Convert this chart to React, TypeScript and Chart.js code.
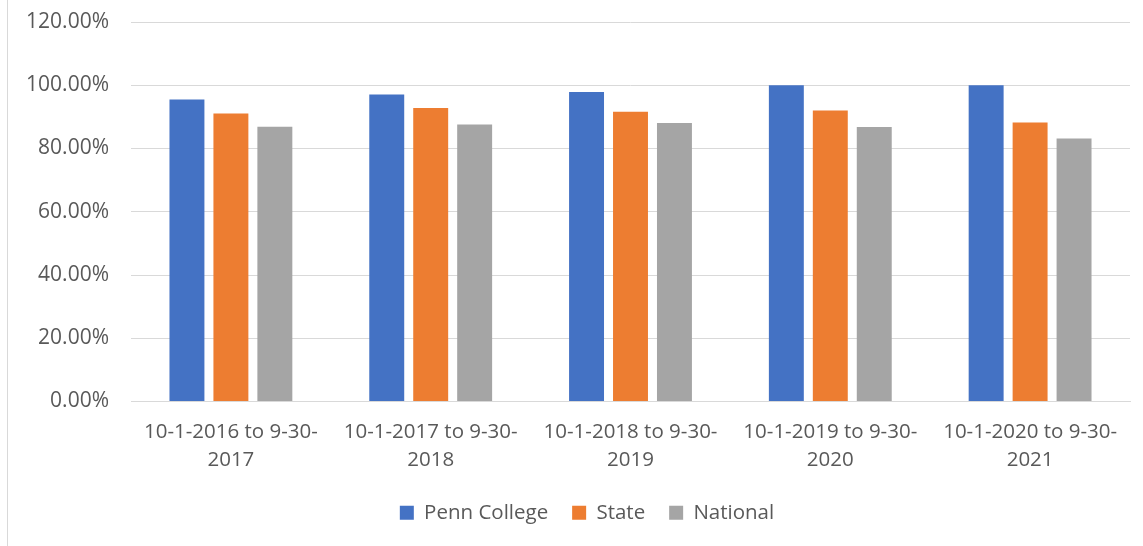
import React, { useEffect, useRef } from "react";
import { Chart, registerables } from "chart.js";

Chart.register(...registerables);

const categories: string[][] = [
  ["10-1-2016 to 9-30-", "2017"],
  ["10-1-2017 to 9-30-", "2018"],
  ["10-1-2018 to 9-30-", "2019"],
  ["10-1-2019 to 9-30-", "2020"],
  ["10-1-2020 to 9-30-", "2021"],
];
const pennCollege = [95.5, 97.1, 97.9, 100, 100];
const stateValues = [91.1, 92.8, 91.6, 92.0, 88.2];
const nationalValues = [86.9, 87.6, 88.1, 86.8, 83.2];

const FONT = "'Open Sans', sans-serif";
const TEXT = "#595959";

const shiftLegend = {
  id: "shiftLegend",
  afterLayout(chart: any) {
    const l = chart.legend;
    if (l) {
      l.left += 22;
      l.right += 22;
    }
  },
};

export default function App() {
  const ref = useRef<HTMLCanvasElement | null>(null);
  useEffect(() => {
    if (!ref.current) return;
    const chart = new Chart(ref.current, {
      type: "bar",
      data: {
        labels: categories,
        datasets: [
          { label: "Penn College", data: pennCollege, backgroundColor: "#4472C4" },
          { label: "State", data: stateValues, backgroundColor: "#ED7D31" },
          { label: "National", data: nationalValues, backgroundColor: "#A5A5A5" },
        ],
      },
      plugins: [shiftLegend],
      options: {
        animation: false,
        responsive: true,
        maintainAspectRatio: false,
        layout: { padding: { left: 0, right: 13, top: 0, bottom: 13 } },
        datasets: { bar: { categoryPercentage: 0.66, barPercentage: 0.795 } },
        plugins: {
          legend: {
            position: "bottom",
            labels: {
              boxWidth: 14,
              boxHeight: 14,
              padding: 24,
              color: TEXT,
              font: { family: FONT, size: 20.5 },
            },
          },
          tooltip: { enabled: false },
        },
        scales: {
          x: {
            afterFit: (scale: any) => {
              scale.height = 77;
            },
            grid: { display: false, drawTicks: false },
            border: { display: true, color: "#D9D9D9" },
            ticks: {
              color: TEXT,
              font: { family: FONT, size: 20.5, lineHeight: 1.37 },
              maxRotation: 0,
              autoSkip: false,
              padding: 17,
            },
          },
          y: {
            min: 0,
            max: 120,
            afterFit: (scale: any) => {
              scale.width = 131;
              scale.paddingTop = 22;
            },
            grid: { color: "#D9D9D9", drawTicks: false },
            border: { display: false },
            ticks: {
              stepSize: 20,
              color: TEXT,
              font: { family: FONT, size: 21 },
              padding: 22,
              callback: (v: any) => Number(v).toFixed(2) + "%",
            },
          },
        },
      },
    });
    return () => chart.destroy();
  }, []);
  return (
    <div style={{ position: "absolute", left: 0, top: 0, width: 1143, height: 546, background: "#fff" }}>
      <div style={{ position: "absolute", left: 7, top: 0, width: 1, height: 546, background: "#D9D9D9" }} />
      <canvas ref={ref} />
    </div>
  );
}
